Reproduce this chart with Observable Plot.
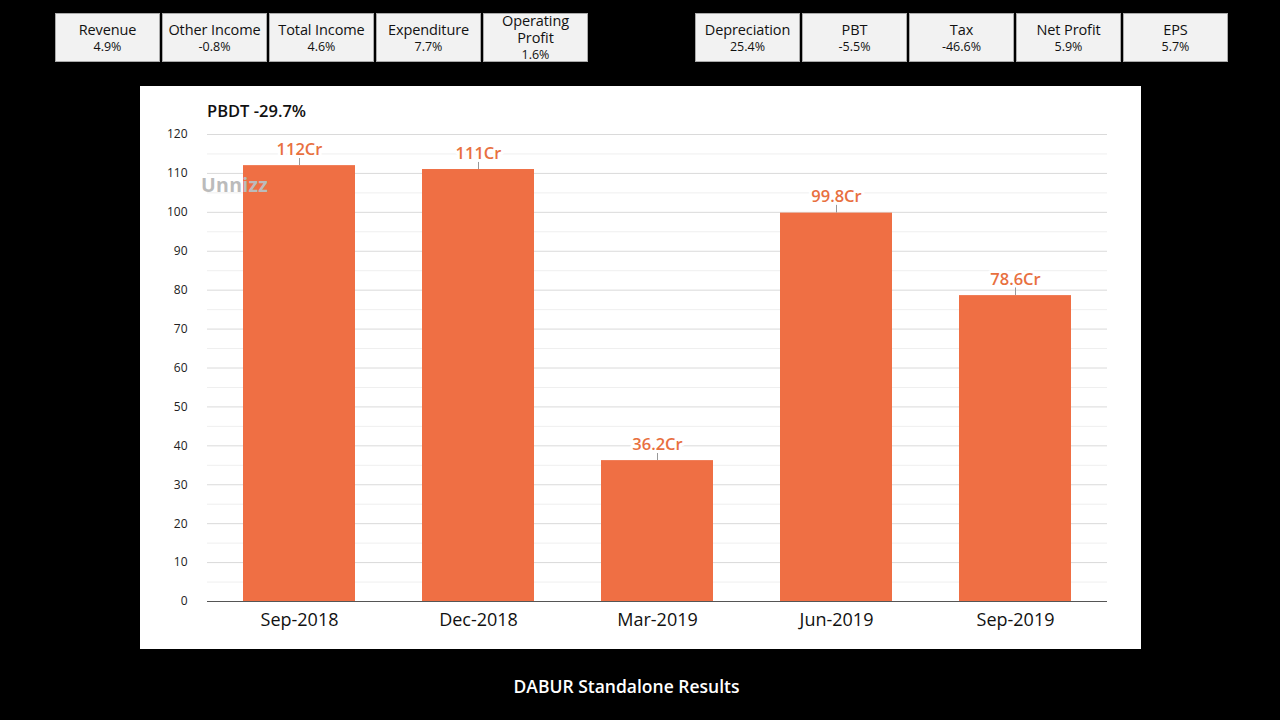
<!DOCTYPE html>
<html><head><meta charset="utf-8">
<script src="https://cdn.jsdelivr.net/npm/d3@7"></script>
<script src="https://cdn.jsdelivr.net/npm/@observablehq/plot@0.6"></script>
<style>
body{margin:0;background:#000;width:1280px;height:720px;overflow:hidden;font-family:"Open Sans",sans-serif;position:relative}
.group{position:absolute;top:13px;display:flex;gap:2px}
.box{width:105px;height:49px;background:#f2f2f2;box-sizing:border-box;border:1px solid #aaa;display:flex;flex-direction:column;justify-content:center;align-items:center;text-align:center;color:#111}
.box .k{font-size:14.5px;line-height:17px;font-weight:500;white-space:nowrap;letter-spacing:-0.1px}
.box .v{font-size:12.5px;line-height:17px;font-weight:500}
#chart{position:absolute;left:140px;top:86px}
#title{position:absolute;left:207px;top:99px;font-size:16.5px;font-weight:600;color:#111}
#mark{position:absolute;left:201px;top:171px;font-size:19.5px;font-weight:700;color:#bbbbbb;letter-spacing:0.3px}
#caption{position:absolute;left:0;width:1253px;top:674px;text-align:center;color:#fff;font-size:17.5px;font-weight:600}
</style></head>
<body>
<div class="group" id="g1"></div>
<div class="group" id="g2"></div>
<div id="chart"></div>
<div id="title">PBDT -29.7%</div>
<div id="mark">Unnizz</div>
<div id="caption">DABUR Standalone Results</div>
<script>
const metricsLeft = ["Revenue","Other Income","Total Income","Expenditure","Operating Profit"];
const changesLeft = ["4.9%","-0.8%","4.6%","7.7%","1.6%"];
const metricsRight = ["Depreciation","PBT","Tax","Net Profit","EPS"];
const changesRight = ["25.4%","-5.5%","-46.6%","5.9%","5.7%"];

const periods = ["Sep-2018","Dec-2018","Mar-2019","Jun-2019","Sep-2019"];
const pbdt = [112, 111, 36.2, 99.8, 78.6];
const valueLabels = ["112Cr","111Cr","36.2Cr","99.8Cr","78.6Cr"];
const yTicks = [0,10,20,30,40,50,60,70,80,90,100,110,120];
const yMinor = [5,15,25,35,45,55,65,75,85,95,105,115];

function fill(id, names, vals, left){
  const g = document.getElementById(id);
  g.style.left = left + "px";
  names.forEach((n,i)=>{
    const b = document.createElement("div"); b.className="box";
    const k = document.createElement("div"); k.className="k"; k.textContent=n;
    const v = document.createElement("div"); v.className="v"; v.textContent=vals[i];
    if(n==="Operating Profit"){ k.innerHTML="Operating<br>Profit"; }
    b.append(k,v); g.append(b);
  });
}
fill("g1", metricsLeft, changesLeft, 55);
fill("g2", metricsRight, changesRight, 695);

const data = periods.map((p,i)=>({period:p, value:pbdt[i], label:valueLabels[i]}));

const chart = Plot.plot({
  width:1001, height:563,
  marginLeft:67, marginRight:34, marginTop:48, marginBottom:48,
  style:{background:"white", fontFamily:"Open Sans, sans-serif", color:"#222", overflow:"visible"},
  x:{domain:periods, paddingInner:0.375, paddingOuter:0.19, label:null},
  y:{domain:[0,120], label:null},
  marks:[
    Plot.ruleY(yMinor,{stroke:"#efefef"}),
    Plot.ruleY(yTicks,{stroke:"#dadada"}),
    Plot.barY(data,{x:"period", y:"value", fill:"#ef6f44"}),
    Plot.ruleY([0],{stroke:"#555"}),
    Plot.ruleX(data,{x:"period", y1:"value", y2:"value", insetBottom:8, stroke:"#999"}),
    Plot.text(data,{x:"period", y:"value", text:"label", dy:-16, fill:"#e8703f", stroke:"white", strokeWidth:6, fontSize:16.5, fontWeight:600}),
    Plot.axisY({ticks:yTicks, tickSize:0, tickPadding:20, fontSize:12, tickFormat:d=>String(d)}),
    Plot.axisX({tickSize:0, tickPadding:12, fontSize:18, fill:"#111"})
  ]
});
document.getElementById("chart").append(chart);
</script>
</body></html>
